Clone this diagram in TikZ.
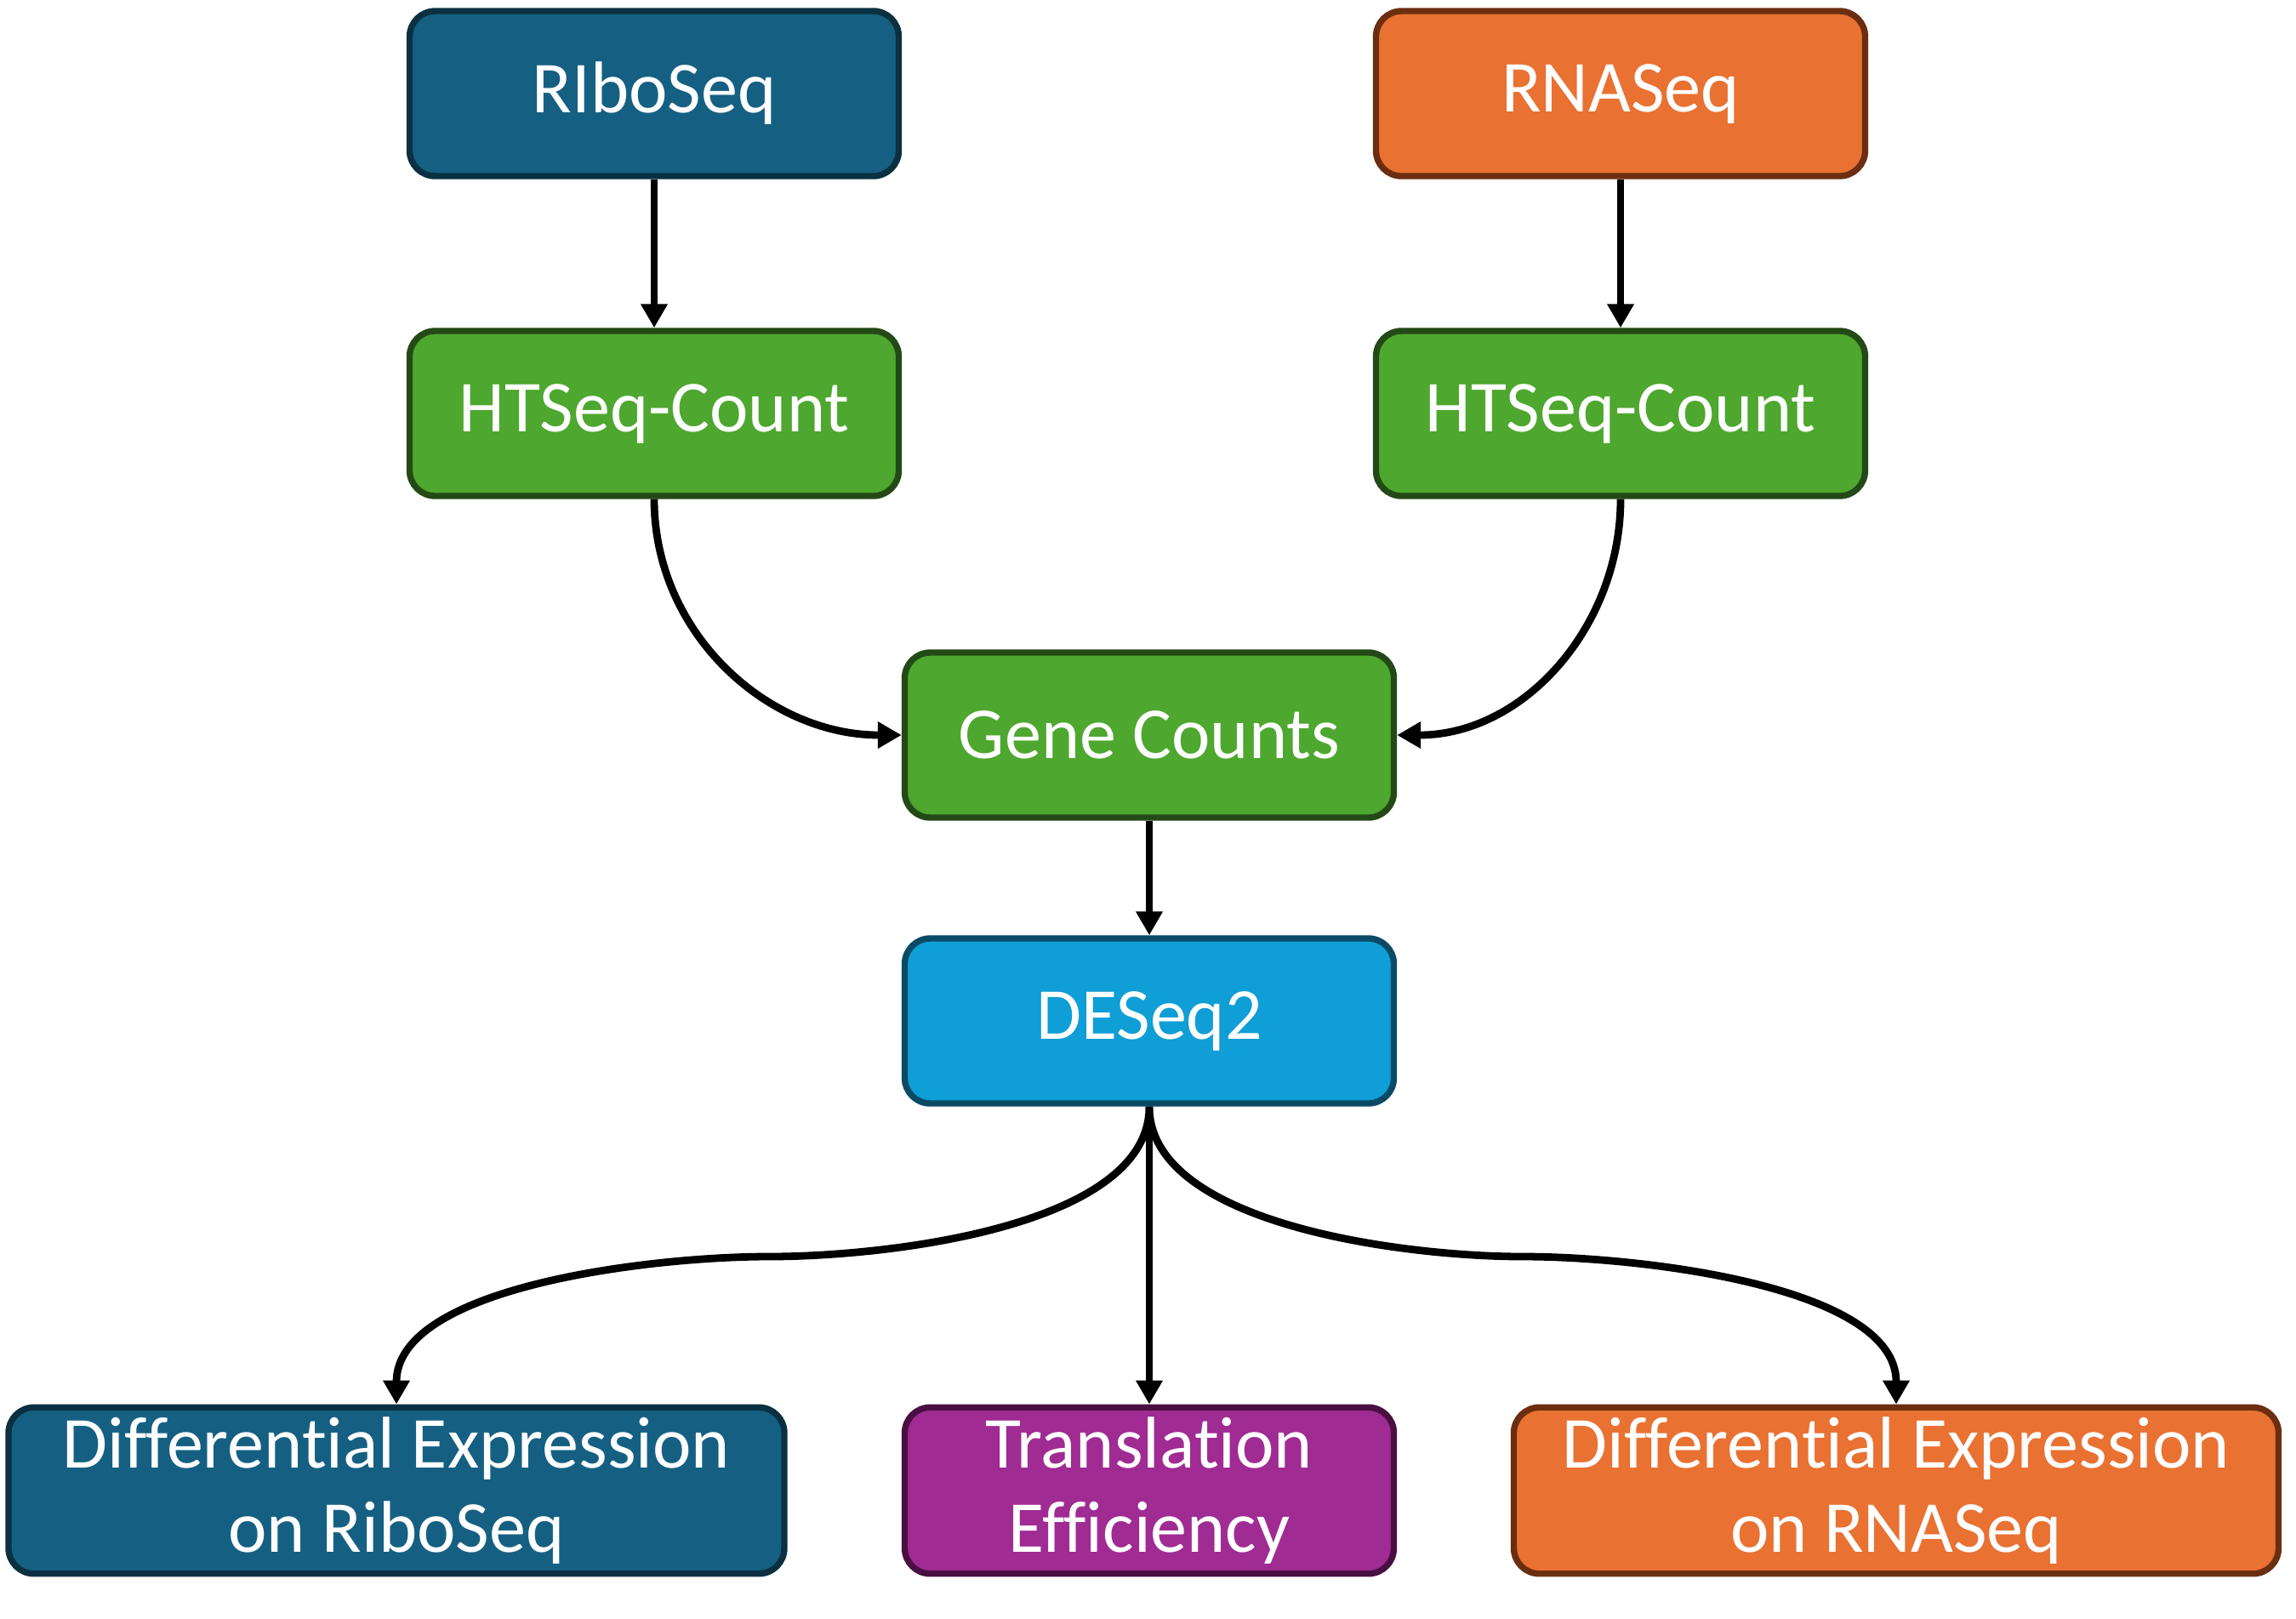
\documentclass[tikz,border=0pt]{standalone}
\usepackage{fontspec}
\setmainfont[Ligatures = NoCommon]{Carlito}
\usetikzlibrary{arrows.meta, positioning}

\definecolor{riboFill}{HTML}{156082}
\definecolor{riboLine}{HTML}{0A3041}
\definecolor{rnaFill}{HTML}{E97132}
\definecolor{rnaLine}{HTML}{6B2E10}
\definecolor{countFill}{HTML}{4EA72E}
\definecolor{countLine}{HTML}{234A16}
\definecolor{deFill}{HTML}{0F9ED5}
\definecolor{deLine}{HTML}{0B4A66}
\definecolor{teFill}{HTML}{A02B93}
\definecolor{teLine}{HTML}{4A0F42}

\begin{document}
\begin{tikzpicture}[
        node distance = 3.5cm, on grid,
        >= {Triangle[width = 0.3cm, length = 0.28cm]},
        flowbox/.style = {rectangle, rounded corners = 0.3cm, line width = 2.1pt,
            minimum width = 5.75cm, minimum height = 1.94cm, align = center,
            text = white, font = \fontsize{24.5}{28}\selectfont},
        ribobox/.style = {flowbox, draw = riboLine, fill = riboFill},
        rnabox/.style = {flowbox, draw = rnaLine, fill = rnaFill},
        countbox/.style = {flowbox, draw = countLine, fill = countFill},
        debox/.style = {flowbox, draw = deLine, fill = deFill},
        tebox/.style = {flowbox, draw = teLine, fill = teFill},
        link/.style = {->, line width = 2.5pt, black}
    ]
        \useasboundingbox (0,0) rectangle (26.99,-19.02);

        \node[ribobox] (ribo) at (7.69,-1.10) {RIboSeq};
        \node[rnabox] (rna) [right = 11.36cm of ribo] {RNASeq};
        \node[countbox] (htRibo) [below = 3.76cm of ribo] {HTSeq-Count};
        \node[countbox] (htRna) [below = 3.76cm of rna] {HTSeq-Count};
        \node[countbox] (genes) [below right = 3.78cm and 5.82cm of htRibo] {Gene Counts};
        \node[debox] (deseq) [below = 3.36cm of genes] {DESeq2};
        \node[tebox] (transl) [below = 5.52cm of deseq] {Translation\\Efficiency};
        \node[ribobox, minimum width = 9.12cm] (diffRibo) [left = 8.85cm of transl] {Differential Expression\\on RiboSeq};
        \node[rnabox, minimum width = 8.99cm] (diffRna) [right = 8.78cm of transl] {Differential Expression\\on RNASeq};

        \coordinate (splitL) at (9.04,-14.77);
        \coordinate (splitR) at (17.90,-14.77);

        \draw[link] (ribo) -- (htRibo);
        \draw[link] (rna) -- (htRna);
        \draw[link] (htRibo.south) to[out = -90, in = 180] (genes.west);
        \draw[link] (htRna.south) to[out = -90, in = 0] (genes.east);
        \draw[link] (genes) -- (deseq);
        \draw[link] (deseq.south) -- (transl.north);
        \draw[link] (deseq.south) to[out = -90, in = 0, looseness = 0.75] (splitL)
            to[out = 180, in = 90, looseness = 0.75] (diffRibo.north);
        \draw[link] (deseq.south) to[out = -90, in = 180, looseness = 0.75] (splitR)
            to[out = 0, in = 90, looseness = 0.75] (diffRna.north);
    \end{tikzpicture}
\end{document}
